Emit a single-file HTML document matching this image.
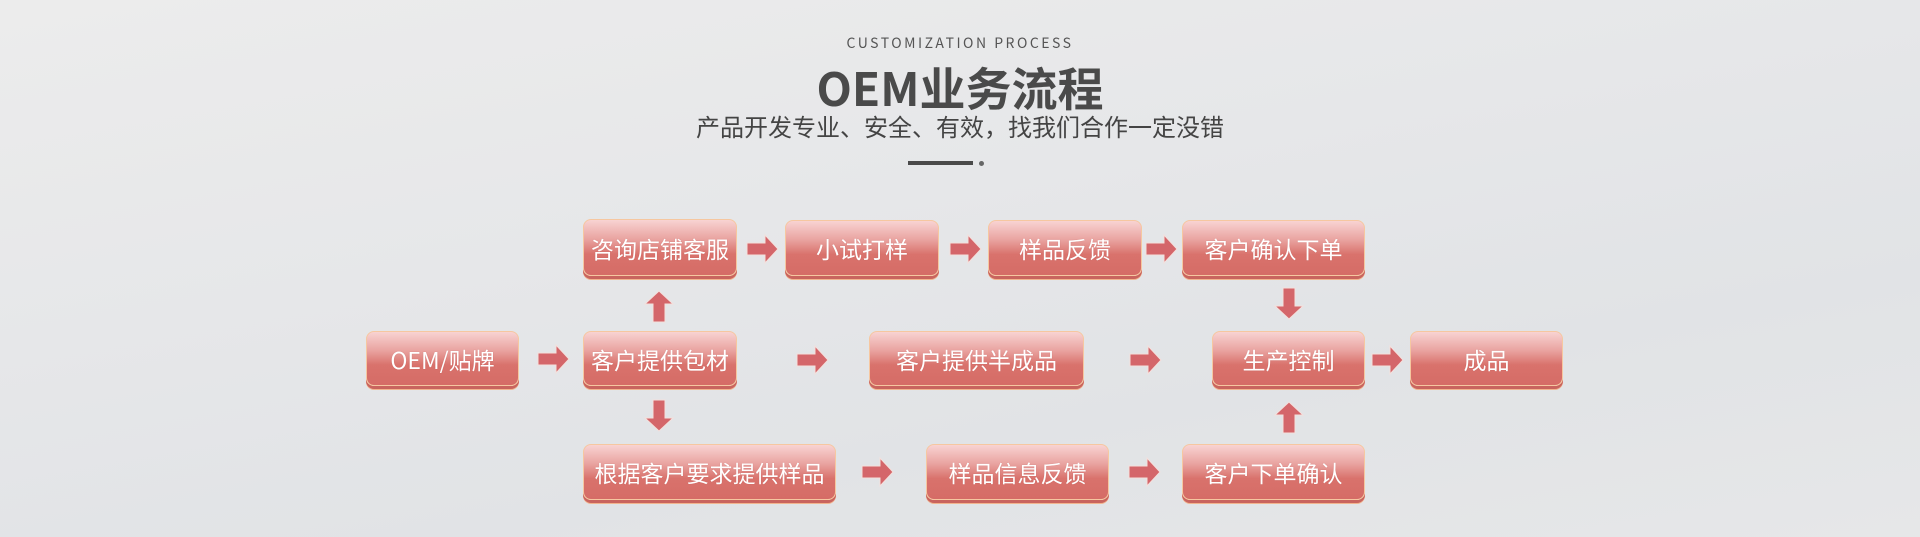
<!DOCTYPE html>
<html><head><meta charset="utf-8"><style>
html,body{margin:0;padding:0}
body{width:1920px;height:537px;position:relative;overflow:hidden;
background:linear-gradient(170deg,#ececec 0%,#e6e7e9 40%,#e1e3e6 70%,#e6e7e8 100%);
font-family:"Noto Sans CJK SC","Liberation Sans",sans-serif}
.t{position:absolute;left:0;width:1920px;text-align:center;color:#4a4a4a}
.b{position:absolute;box-sizing:border-box;border-radius:8px;border:1px solid #f6c7a0;
background:linear-gradient(#f8d3d2 0%,#e9a3a0 35%,#d9726c 62%,#d56c66 100%);
box-shadow:0 3px 0 #c9645e,0 4px 0 #f2b48e;color:#fff;font-size:23px;line-height:30px;
display:flex;align-items:center;justify-content:center;text-shadow:0 0 1px rgba(150,60,60,.3)}
svg.a{position:absolute}
</style></head><body>
<div class="t" style="top:33px;font-size:14px;line-height:20px;letter-spacing:2.5px;color:#555">CUSTOMIZATION PROCESS</div>
<div class="t" style="top:57px;font-size:46px;font-weight:bold;line-height:60px;color:#4a4a4a">OEM业务流程</div>
<div class="t" style="top:110px;font-size:24px;line-height:32px;color:#444">产品开发专业、安全、有效，找我们合作一定没错</div>
<div style="position:absolute;left:908px;top:161px;width:65px;height:4px;background:#4a4a4a"></div>
<div style="position:absolute;left:979px;top:161px;width:5px;height:5px;border-radius:50%;background:#666"></div>

<div class="b" style="left:366px;top:331px;width:153px;height:55px">OEM/贴牌</div>
<div class="b" style="left:583px;top:219px;width:154px;height:57px">咨询店铺客服</div>
<div class="b" style="left:785px;top:220px;width:154px;height:56px">小试打样</div>
<div class="b" style="left:988px;top:220px;width:154px;height:56px">样品反馈</div>
<div class="b" style="left:1182px;top:220px;width:183px;height:56px">客户确认下单</div>
<div class="b" style="left:583px;top:331px;width:154px;height:55px">客户提供包材</div>
<div class="b" style="left:869px;top:331px;width:215px;height:55px">客户提供半成品</div>
<div class="b" style="left:1212px;top:331px;width:153px;height:55px">生产控制</div>
<div class="b" style="left:1410px;top:331px;width:153px;height:55px">成品</div>
<div class="b" style="left:583px;top:444px;width:253px;height:56px">根据客户要求提供样品</div>
<div class="b" style="left:926px;top:444px;width:183px;height:56px">样品信息反馈</div>
<div class="b" style="left:1182px;top:444px;width:183px;height:56px">客户下单确认</div>

<svg width="0" height="0" style="position:absolute"><defs>
<polygon id="r" points="0,-6 18,-6 18,-14 31,0 18,14 18,6 0,6" fill="#d4666a" stroke="#f4e0dc" stroke-width="1"/>
</defs></svg>
<svg class="a" width="1920" height="537" style="left:0;top:0">
<use href="#r" x="538" y="359"/>
<use href="#r" x="747" y="249"/>
<use href="#r" x="950" y="249"/>
<use href="#r" x="1146" y="249"/>
<use href="#r" x="797" y="360"/>
<use href="#r" x="1130" y="360"/>
<use href="#r" x="1372" y="360"/>
<use href="#r" x="862" y="472"/>
<use href="#r" x="1129" y="472"/>
<use href="#r" transform="translate(659,322) rotate(-90)"/>
<use href="#r" transform="translate(659,400) rotate(90)"/>
<use href="#r" transform="translate(1289,288) rotate(90)"/>
<use href="#r" transform="translate(1289,433) rotate(-90)"/>
</svg>
</body></html>
